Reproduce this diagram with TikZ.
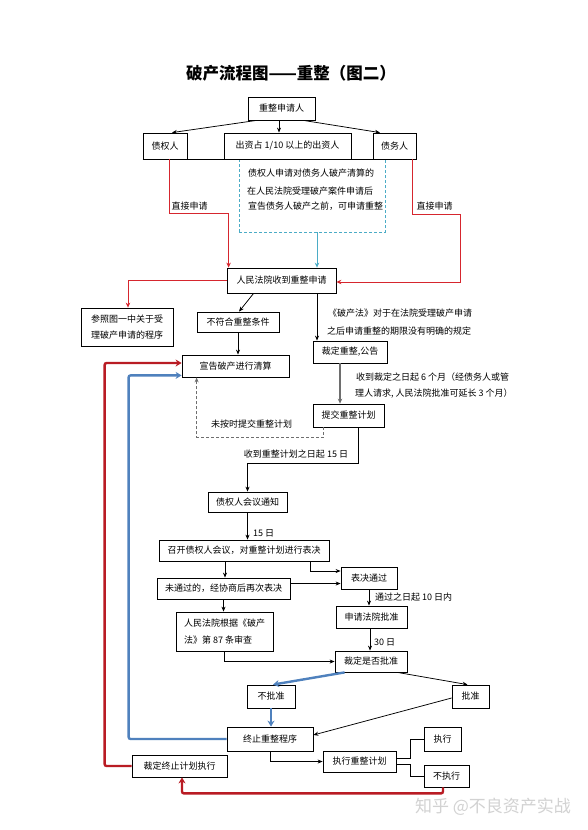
\documentclass[tikz,border=0pt]{standalone}
\usepackage{fontspec}
\setmainfont{Noto Sans CJK SC}
\usetikzlibrary{arrows.meta,calc}
\definecolor{lred}{RGB}{214,38,46}
\definecolor{dred}{RGB}{185,28,36}
\definecolor{dblue}{RGB}{79,129,189}
\definecolor{lblue}{RGB}{75,172,198}
\definecolor{wmgray}{RGB}{210,210,210}
\definecolor{lgray}{RGB}{110,110,110}
\newcommand\dgfs{\fontsize{9}{11}\selectfont}
\newcommand\dgfsb{\fontsize{9}{16.5}\selectfont}
\begin{document}
\begin{tikzpicture}[x=1pt,y=-1pt,
  box/.style={draw,line width=0.8pt,inner sep=0pt,font=\dgfs,align=center},
  lbl/.style={inner sep=0pt,font=\dgfs},
  line/.style={line width=0.75pt},
  arr/.style={line width=0.75pt,-{Stealth[length=5pt,width=4pt]}},
  redarr/.style={line width=0.9pt,draw=lred,-{Stealth[length=5pt,width=4.5pt]}},
  bluethin/.style={line width=0.9pt,draw=lblue,-{Stealth[length=5pt,width=4.5pt]}},
  grayarr/.style={line width=1.1pt,draw=lgray,-{Stealth[length=5pt,width=4.5pt]}},
  dasharr/.style={line width=1pt,draw=lgray,dash pattern=on 3pt off 2pt,-{Stealth[length=5pt,width=4pt]}},
  bluethick/.style={line width=2.4pt,draw=dblue,rounded corners=2pt,-{Stealth[length=6pt,width=7pt]}},
  redthick/.style={line width=2.4pt,draw=dred,rounded corners=2pt,-{Stealth[length=6pt,width=7pt]}}]
\fill[white] (0,0) rectangle (587,830);
\useasboundingbox (0,0) rectangle (587,830);

\node[font=\bfseries\fontsize{16.5}{18}\selectfont,inner sep=0pt] (title) at (291,73) {破产流程图——重整（图二）};

\node[box,minimum width=67pt,minimum height=23pt] (apply) at (281.5,108.5) {重整申请人};
\node[box,minimum width=44pt,minimum height=26pt] (cred) at (165,146) {债权人};
\node[box,minimum width=127pt,minimum height=26pt] (inv) at (287.5,146) {出资占 1/10 以上的出资人};
\node[box,minimum width=43pt,minimum height=26pt] (debt) at (394.5,146) {债务人};
\node[draw=lblue,line width=0.8pt,dash pattern=on 3pt off 2pt,minimum width=146pt,minimum height=73pt,inner sep=0pt] (dbox) at (312,195.5) {};
\node[lbl,anchor=west] (n1) at (248,173) {债权人申请对债务人破产清算的};
\node[lbl,anchor=west] (n2) at (247,191) {在人民法院受理破产案件申请后};
\node[lbl,anchor=west] (n3) at (248,206) {宣告债务人破产之前，可申请重整};
\draw[line width=0.8pt] (cred.south west) -- (debt.south east);

\node[box,minimum width=109pt,minimum height=25pt] (court) at (281.5,280.5) {人民法院收到重整申请};
\node[box,minimum width=92pt,minimum height=38pt,align=left,font=\dgfsb] (ref) at (127,327) {参照图一中关于受\\理破产申请的程序};
\node[box,minimum width=82pt,minimum height=20pt] (notfit) at (238,322) {不符合重整条件};
\node[box,minimum width=107pt,minimum height=22pt] (declare) at (235.5,366) {宣告破产进行清算};
\node[box,minimum width=74pt,minimum height=22pt] (ruling) at (350,352) {裁定重整,公告};
\node[box,minimum width=71pt,minimum height=23pt] (submit) at (348.5,415.5) {提交重整计划};
\node[box,minimum width=79pt,minimum height=20pt] (notice) at (247.5,502) {债权人会议通知};
\node[box,minimum width=170pt,minimum height=21pt] (meeting) at (244,550.5) {召开债权人会议，对重整计划进行表决};
\node[box,minimum width=133pt,minimum height=21pt] (failed) at (223.5,588.5) {未通过的，经协商后再次表决};
\node[box,minimum width=56pt,minimum height=22pt] (passed) at (369,578) {表决通过};
\node[box,minimum width=97pt,minimum height=39pt,align=left,font=\dgfsb] (court87) at (224.5,631.5) {人民法院根据《破产\\法》第 87 条审查};
\node[box,minimum width=71pt,minimum height=22pt] (applyct) at (371.5,617) {申请法院批准};
\node[box,minimum width=72pt,minimum height=21pt] (decide) at (371,661.5) {裁定是否批准};
\node[box,minimum width=48pt,minimum height=23pt] (reject) at (271,696.5) {不批准};
\node[box,minimum width=37pt,minimum height=23pt] (approve) at (470.5,696.5) {批准};
\node[box,minimum width=86pt,minimum height=24pt] (terminate) at (270,739) {终止重整程序};
\node[box,minimum width=95pt,minimum height=22pt] (termexec) at (179.5,766) {裁定终止计划执行};
\node[box,minimum width=73pt,minimum height=21pt] (exec) at (359.5,761.5) {执行重整计划};
\node[box,minimum width=37pt,minimum height=24pt] (doit) at (442.5,739) {执行};
\node[box,minimum width=45pt,minimum height=22pt] (notdo) at (446.5,776) {不执行};

\node[lbl] (l1) at (189.5,206) {直接申请};
\node[lbl] (l2) at (434.5,206) {直接申请};
\node[lbl,anchor=west] (l3) at (328,313) {《破产法》对于在法院受理破产申请};
\node[lbl,anchor=west] (l4) at (327,331) {之后申请重整的期限没有明确的规定};
\node[lbl,anchor=west] (l5) at (356,377) {收到裁定之日起 6 个月（经债务人或管};
\node[lbl,anchor=west] (l6) at (355,393) {理人请求, 人民法院批准可延长 3 个月）};
\node[lbl] (l7) at (251.5,424) {未按时提交重整计划};
\node[lbl] (l8) at (296,454) {收到重整计划之日起 15 日};
\node[lbl,anchor=west] (l9) at (253,533) {15 日};
\node[lbl,anchor=west] (l10) at (375,597) {通过之日起 10 日内};
\node[lbl,anchor=west] (l11) at (374,642) {30 日};
\node[font=\fontsize{17}{19}\selectfont,text=wmgray,inner sep=0pt] (wmk) at (493,807) {知乎 @不良资产实战};

\coordinate (x279) at (279,0);
\coordinate (x317) at (317,0);
\coordinate (x340) at (340,0);
\coordinate (x225) at (225,0);
\coordinate (x370) at (370,0);
\coordinate (fe) at ($(failed.east)+(0,-5)$);

\draw[arr] ($(apply.south west)+(9,0)$) -- ($(cred.north)+(7,0)$);
\draw[arr] (apply.south -| x279) -- (inv.north -| x279);
\draw[arr] ($(apply.south east)+(-12,0)$) -- ($(debt.north)+(-14.5,0)$);

\draw[redarr] ($(cred.south)+(4,0)$) -- ++(0,54) -| ($(court.north west)+(2,0)$);
\draw[redarr] ($(debt.south)+(17.5,0)$) -- ++(0,55) -- ++(48,0) |- ($(court.east)+(0,1.5)$);
\draw[bluethin] (dbox.south -| x317) -- (court.north -| x317);
\draw[redarr] (court.west) -| ($(ref.north)+(1,0)$);

\draw[arr] ($(court.south west)+(27,0)$) -- ($(notfit.north)+(1,0)$);
\draw[arr] (notfit.south) -- (notfit.south |- declare.north);
\draw[arr] (court.south -| x317) -- (ruling.north -| x317);
\draw[grayarr] (ruling.south -| x340) -- (submit.north -| x340);
\draw[dasharr] ($(submit.south west)+(11,0)$) -- ++(0,10) -| ($(declare.south west)+(15,0)$);
\draw[arr] ($(submit.south east)+(-26,0)$) -- ++(0,36) -| (notice.north);
\draw[arr] (notice.south) -- (notice.south |- meeting.north);
\draw[arr] ($(meeting.south east)+(-19,0)$) |- ($(passed.west)+(0,-7)$);
\draw[arr] (meeting.south -| x225) -- (failed.north -| x225);
\draw[arr] (fe) -- (fe -| passed.west);
\draw[arr] (failed.south) -- (failed.south |- court87.north);
\draw[arr] (passed.south) -- (passed.south |- applyct.north);
\draw[arr] (applyct.south -| x370) -- (decide.north -| x370);
\draw[arr] (court87.south) |- (decide.west);
\draw[bluethick] ($(decide.south west)+(10,0)$) -- ($(reject.north)+(2,0)$);
\draw[arr] ($(decide.south east)+(-10,0)$) -- ($(approve.north)+(-3,0)$);
\draw[bluethick] (reject.south) -- (reject.south |- terminate.north);
\draw[arr] ($(approve.west)+(0,1.5)$) -- ($(terminate.east)+(0,-4)$);
\draw[bluethick] (terminate.west) -- ++(-98,0) |- ($(declare.south west)+(0,-2)$);
\draw[redthick] (termexec.west) -- ++(-27,0) |- ($(declare.west)+(0,-3)$);
\draw[redthick] ($(notdo.south)+(-3.5,0)$) -- ++(0,6) -| ($(termexec.south)+(2.5,0)$);
\draw[arr] (terminate.south) |- (exec.west);
\draw[line] ($(exec.east)+(0,-3)$) -- ++(14,0) |- (doit.west);
\draw[line] ($(exec.east)+(0,3)$) -- ++(14,0) |- (notdo.west);
\end{tikzpicture}
\end{document}
